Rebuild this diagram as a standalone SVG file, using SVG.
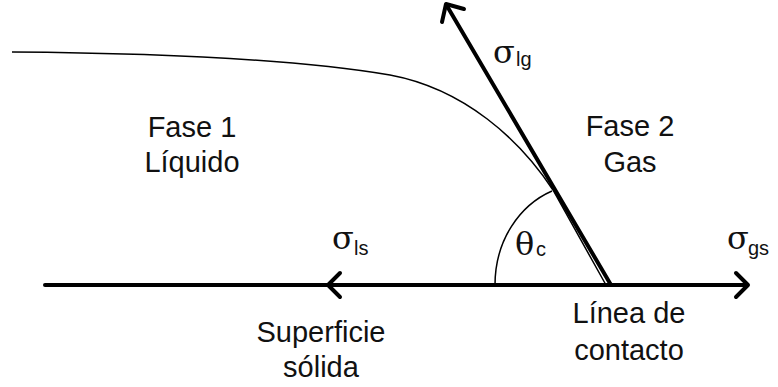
<svg xmlns="http://www.w3.org/2000/svg" width="778" height="387" viewBox="0 0 778 387">
<style>
.lbl{font-family:"Liberation Sans",Arial,sans-serif;font-size:29px;fill:#111;text-anchor:middle}
.gr{font-family:"DejaVu Serif","Liberation Serif",serif;font-size:32px;fill:#111}
.sub{font-family:"Liberation Sans",Arial,sans-serif;font-size:20px;fill:#111}
.thick{fill:none;stroke:#000;stroke-width:4;stroke-linecap:round;stroke-linejoin:round}
.thin{fill:none;stroke:#000;stroke-width:1.5}
</style>
<rect width="778" height="387" fill="#fff"/>
<g id="connectors">
  <path id="interface" class="thin" d="M 12 52 C 150 53, 290 58, 390 75 C 465 89, 520 140, 553 190 L 606 285"/>
  <path id="angle-arc" class="thin" d="M 495 285 C 495 240, 520 205, 552 191"/>
  <line id="surface" class="thick" x1="45" y1="285" x2="747" y2="285"/>
  <path id="arrow-ls" class="thick" d="M 340 273 L 328 285 L 340 297"/>
  <path id="arrow-gs" class="thick" d="M 736 273 L 748 285 L 736 297"/>
  <line id="lg-line" class="thick" x1="611" y1="285" x2="447" y2="6"/>
  <path id="arrow-lg" class="thick" d="M 464 9 L 446 4 L 442 22"/>
</g>
<g id="fase1"><text class="lbl" x="192" y="137">Fase 1</text><text class="lbl" x="192" y="172">Líquido</text></g>
<g id="fase2"><text class="lbl" x="630" y="136">Fase 2</text><text class="lbl" x="630" y="172">Gas</text></g>
<g id="sigma-lg"><text class="gr" x="493" y="63">σ</text><text class="sub" x="516" y="66">lg</text></g>
<g id="sigma-ls"><text class="gr" x="332" y="249">σ</text><text class="sub" x="354" y="255">ls</text></g>
<g id="sigma-gs"><text class="gr" x="727" y="249">σ</text><text class="sub" x="748" y="255">gs</text></g>
<g id="theta"><text class="gr" x="515" y="255">θ</text><text class="sub" x="536" y="256">c</text></g>
<g id="superficie"><text class="lbl" x="321" y="342">Superficie</text><text class="lbl" x="321" y="377">sólida</text></g>
<g id="linea"><text class="lbl" x="629" y="323">Línea de</text><text class="lbl" x="629" y="360">contacto</text></g>
</svg>
